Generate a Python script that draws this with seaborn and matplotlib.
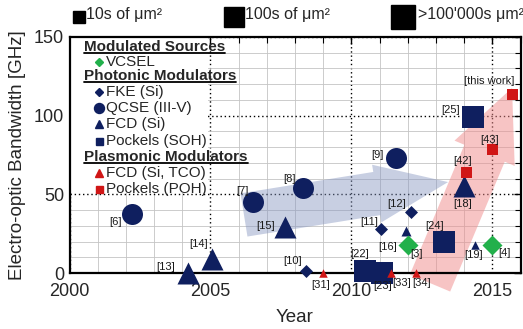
import matplotlib
matplotlib.use('Agg')
import matplotlib.pyplot as plt
from matplotlib.lines import Line2D
from matplotlib.patches import Rectangle
import matplotlib.ticker as mticker
import pandas as pd
import seaborn as sns

# ---------------- data ----------------
refs = ['[6]', '[7]', '[8]', '[9]',
        '[13]', '[14]', '[15]', '[16]', '[18]', '[19]',
        '[10]', '[11]', '[12]',
        '[22]', '[23]', '[24]', '[25]',
        '[3]', '[4]',
        '[31]', '[33]', '[34]',
        '[42]', '[43]', '[this work]']
series = (['QCSE (III-V)'] * 4 + ['FCD (Si)'] * 6 + ['FKE (Si)'] * 3 +
          ['Pockels (SOH)'] * 4 + ['VCSEL'] * 2 + ['FCD (Si, TCO)'] * 3 +
          ['Pockels (POH)'] * 3)
years = [2002.2, 2006.5, 2008.3, 2011.6,
         2004.2, 2005.05, 2007.65, 2011.95, 2014.0, 2014.4,
         2008.4, 2011.05, 2012.1,
         2010.5, 2011.1, 2013.3, 2014.3,
         2012.0, 2015.0,
         2009.0, 2011.4, 2012.3,
         2014.05, 2015.0, 2015.7]
bandwidth = [37.5, 45, 54, 73,
             0, 9, 29, 27, 55, 17.5,
             1.3, 28, 39,
             1.5, 0, 20, 99,
             17.5, 17.5,
             0, 0, 0,
             64, 79, 114]
footprint = ['L', 'L', 'L', 'L',
             'L', 'L', 'L', 'M', 'L', 'S',
             'M', 'M', 'M',
             'L', 'L', 'L', 'L',
             'L', 'L',
             'S', 'S', 'S',
             'S', 'S', 'S']
footprint_labels = ['10s of μm²', '100s of μm²', ">100'000s μm²"]
legend_groups = [('Modulated Sources', ['VCSEL']),
                 ('Photonic Modulators', ['FKE (Si)', 'QCSE (III-V)', 'FCD (Si)', 'Pockels (SOH)']),
                 ('Plasmonic Modulators', ['FCD (Si, TCO)', 'Pockels (POH)'])]

df = pd.DataFrame({'ref': refs, 'series': series, 'year': years,
                   'bw': bandwidth, 'fp': footprint})

# ---------------- styles ----------------
NAVY = '#0f1f5f'
GREEN = '#22b04b'
RED = '#d01616'
marker_of = {'VCSEL': 'D', 'FKE (Si)': 'D', 'QCSE (III-V)': 'o', 'FCD (Si)': '^',
             'Pockels (SOH)': 's', 'FCD (Si, TCO)': '^', 'Pockels (POH)': 's'}
color_of = {'VCSEL': GREEN, 'FKE (Si)': NAVY, 'QCSE (III-V)': NAVY, 'FCD (Si)': NAVY,
            'Pockels (SOH)': NAVY, 'FCD (Si, TCO)': RED, 'Pockels (POH)': RED}
# marker widths in pixels
width_px = {('o', 'L'): 21, ('^', 'L'): 22, ('^', 'M'): 10, ('^', 'S'): 8.5,
            ('s', 'L'): 22, ('s', 'S'): 11, ('D', 'L'): 20 / 1.414, ('D', 'M'): 13 / 1.414}
# label offsets in pixels (dx right, dy down)
label_off = [(-16, 8), (-10.5, -11), (-14.3, -9.3), (-19.5, -3.3),
             (-22.5, -5.5), (-13.5, -14.5), (-19.4, -1), (-18.7, 16.7), (-1, 18), (-1.7, 9.3),
             (-13.5, -9.7), (-12, -7), (-13.5, -7.4),
             (-6, -17), (0, 13), (-10, -15.6), (-22, -7),
             (9, 8.3), (12, 7.6),
             (-3, 12), (10.7, 10.5), (5, 9.5),
             (-2.5, -11), (-2.3, -9), (-22.6, -12.3)]
PX = 0.72  # points per pixel at dpi 100

sns.set_theme(style='white')
plt.rcParams['font.family'] = ['Liberation Sans', 'DejaVu Sans']
plt.rcParams['mathtext.fontset'] = 'dejavusans'

W, H = 523, 329
fig = plt.figure(figsize=(W / 100, H / 100), dpi=100)
ax_l, ax_r, ax_t, ax_b = 69.5, 520.5, 37, 273
ax = fig.add_axes([ax_l / W, 1 - ax_b / H, (ax_r - ax_l) / W, (ax_b - ax_t) / H])
ax.set_xlim(2000, 2016)
ax.set_ylim(0, 150)

def axfrac(px, py):
    return (px - ax_l) / (ax_r - ax_l), (ax_b - py) / (ax_b - ax_t)

# grid
ax.set_axisbelow(True)
ax.xaxis.set_major_locator(mticker.FixedLocator([2000, 2005, 2010, 2015]))
ax.xaxis.set_minor_locator(mticker.MultipleLocator(1))
ax.yaxis.set_major_locator(mticker.FixedLocator([0, 50, 100, 150]))
ax.yaxis.set_minor_locator(mticker.MultipleLocator(10))
ax.grid(which='minor', color='#c4c4c4', lw=0.6, ls='-')
ax.grid(which='major', color='black', lw=1.0, ls=(0, (1, 2)))

for s in ax.spines.values():
    s.set_linewidth(1.6)
    s.set_color('black')
ax.tick_params(which='both', direction='in', top=True, right=True, color='black')
ax.tick_params(which='major', length=5, width=1.0, labelsize=13, pad=7)
ax.tick_params(which='minor', length=4, width=0.8)
ax.tick_params(axis='y', which='major', pad=4)
ax.set_xlabel('Year', fontsize=13.5)
ax.set_ylabel('Electro-optic Bandwidth [GHz]', fontsize=13.5)
ax.xaxis.set_label_coords(0.5, axfrac(0, 309)[1])
ax.yaxis.set_label_coords(axfrac(26, 0)[0], 0.5)

# trend arrows
ax.annotate('', xy=(2015.70, 117.6), xytext=(2012.79, -6.4),
            arrowprops=dict(arrowstyle='simple,head_length=51,head_width=47,tail_width=31.5',
                            mutation_scale=1, fc='#f08a8a', ec='none', alpha=0.5,
                            shrinkA=0, shrinkB=0),
            annotation_clip=False, zorder=1.5)
ax.annotate('', xy=(2013.43, 57.8), xytext=(2006.19, 36.9),
            arrowprops=dict(arrowstyle='simple,head_length=52,head_width=42,tail_width=31.5',
                            mutation_scale=1, fc='#8595c0', ec='none', alpha=0.45,
                            shrinkA=0, shrinkB=0),
            annotation_clip=False, zorder=1.6)

# data points
order = ['QCSE (III-V)', 'FKE (Si)', 'FCD (Si)', 'Pockels (SOH)', 'VCSEL',
         'FCD (Si, TCO)', 'Pockels (POH)']
for name in order:
    sub = df[df.series == name]
    for fp, g in sub.groupby('fp'):
        mk = marker_of[name]
        ms = width_px[(mk, fp)] * PX
        sns.scatterplot(data=g, x='year', y='bw', marker=mk, s=ms ** 2,
                        color=color_of[name], linewidth=0, ax=ax,
                        clip_on=False, zorder=3, legend=False)
ax.set_xlabel('Year', fontsize=13.5)
ax.set_ylabel('Electro-optic Bandwidth [GHz]', fontsize=13.5)

for (r, x, y), (dx, dy) in zip(zip(refs, years, bandwidth), label_off):
    ax.annotate(r, (x, y), xytext=(dx * PX, -dy * PX), textcoords='offset points',
                ha='center', va='center', fontsize=8, color='#1a1a1a',
                annotation_clip=False, zorder=4)

# inner legend
bx0, by0 = axfrac(ax_l, 193)
bx1, _ = axfrac(208, 0)
ax.add_patch(Rectangle((0, by0), bx1, 1 - by0, transform=ax.transAxes,
                       fc='white', ec='none', zorder=2))
row_y = [46.7, 62.3, 75.7, 91.7, 108.3, 124.3, 141, 156.7, 173.3, 189.3]
leg_marker_px = {'D': 8 / 1.414, 'o': 10, '^': 8, 's': 7}
heads = []
i = 0
for head, items in legend_groups:
    hx, hy = axfrac(84, row_y[i])
    t = ax.text(hx, hy, head, transform=ax.transAxes, fontsize=11, fontweight='bold',
                ha='left', va='center', zorder=5)
    heads.append(t)
    i += 1
    for it in items:
        mx, my = axfrac(98.5, row_y[i])
        mk = marker_of[it]
        ax.add_line(Line2D([mx], [my], marker=mk, ms=leg_marker_px[mk] * PX,
                           color=color_of[it], ls='none', transform=ax.transAxes,
                           zorder=5, clip_on=False))
        tx, ty = axfrac(106, row_y[i])
        ax.text(tx, ty, it, transform=ax.transAxes, fontsize=11, ha='left',
                va='center', zorder=5)
        i += 1

# top footprint legend
top_sq_x = [78.8, 233.7, 402.8]
top_sq_px = [12, 19.5, 24.5]
top_tx_x = [86, 245, 418]
for lab, sx, sp, tx in zip(footprint_labels, top_sq_x, top_sq_px, top_tx_x):
    fig.add_artist(Line2D([sx / W], [1 - 16.5 / H], marker='s', ms=sp * PX,
                          color='black', ls='none', transform=fig.transFigure))
    fig.text(tx / W, 1 - 15 / H, lab, fontsize=11.5, ha='left', va='center')

# underline headings
fig.canvas.draw()
rend = fig.canvas.get_renderer()
inv = ax.transAxes.inverted()
for t in heads:
    bb = t.get_window_extent(rend)
    (x0, y0), (x1, _) = inv.transform([(bb.x0, bb.y0 + 1), (bb.x1, bb.y0 + 1)])
    ax.add_line(Line2D([x0, x1], [y0, y0], color='black', lw=1.3,
                       transform=ax.transAxes, zorder=5, clip_on=False))

fig.savefig('out.png', dpi=100)
